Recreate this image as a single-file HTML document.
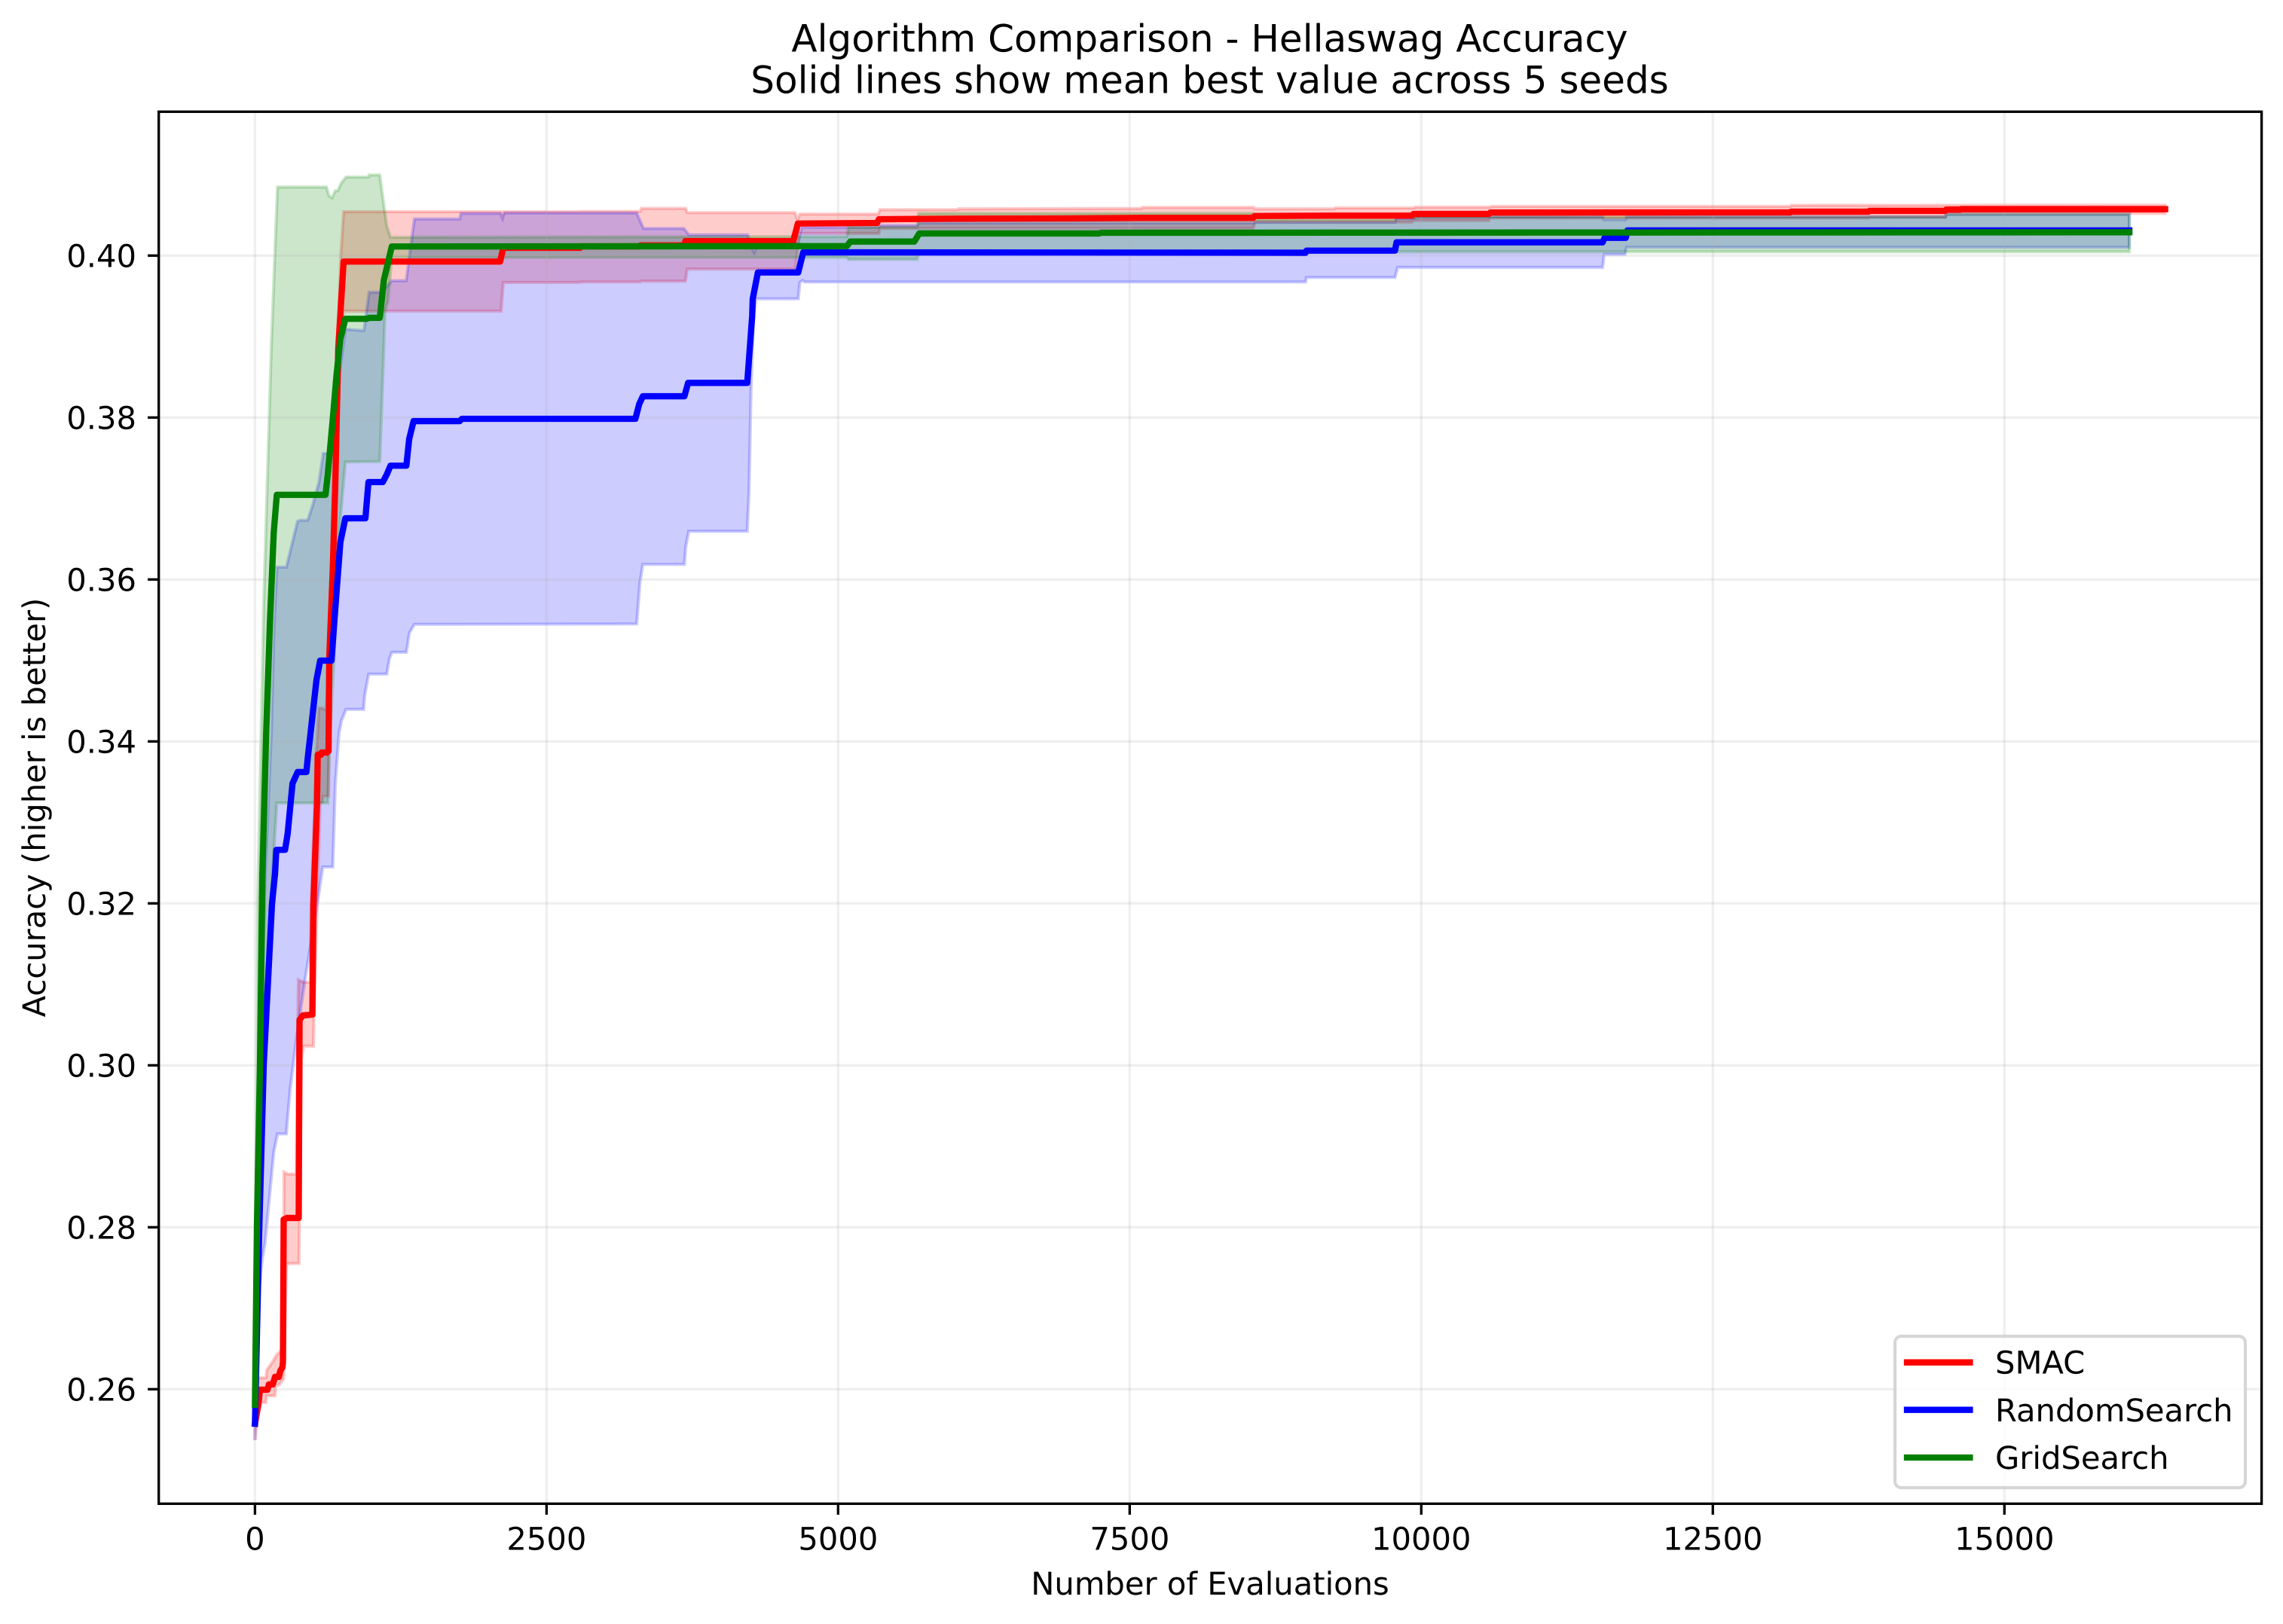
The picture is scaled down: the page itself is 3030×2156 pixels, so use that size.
<!DOCTYPE html>
<html lang="en">
<head>
<meta charset="utf-8">
<title>Algorithm Comparison - Hellaswag Accuracy</title>
<style>
html,body{margin:0;padding:0;background:#fff;}
svg{display:block;}
text{font-family:"DejaVu Sans","Liberation Sans",sans-serif;fill:#000;text-rendering:geometricPrecision;}
</style>
</head>
<body>
<svg id="chart" xmlns="http://www.w3.org/2000/svg" width="3030" height="2156" viewBox="0 0 3030 2156">
  <rect x="0" y="0" width="3030" height="2156" fill="#ffffff"/>
  <text x="1605.5" y="68.3" font-size="50" text-anchor="middle">Algorithm Comparison - Hellaswag Accuracy</text>
  <text x="1605.5" y="123.3" font-size="50" text-anchor="middle">Solid lines show mean best value across 5 seeds</text>
  <text x="1606" y="2117" font-size="41.67" text-anchor="middle">Number of Evaluations</text>
  <text transform="translate(60 1072) rotate(-90)" font-size="41.67" text-anchor="middle">Accuracy (higher is better)</text>
  <g id="bands"></g>
  <g id="grid"></g>
  <g id="lines"></g>
  <rect x="210.7" y="148.3" width="2790.9" height="1848" fill="none" stroke="#000" stroke-width="3.33"/>
  <g id="ticks"></g>
  <g id="legend">
    <rect x="2515" y="1774" width="465" height="201" rx="8.33" ry="8.33" fill="#ffffff" fill-opacity="0.8" stroke="#cccccc" stroke-opacity="0.8" stroke-width="4.17"/>
    <g>
      <line x1="2531" y1="1808.7" x2="2614.4" y2="1808.7" stroke="#ff0000" stroke-width="8.33" stroke-linecap="square"/>
      <text x="2648" y="1823.3" font-size="41.67">SMAC</text>
    </g>
    <g>
      <line x1="2531" y1="1871.7" x2="2614.4" y2="1871.7" stroke="#0000ff" stroke-width="8.33" stroke-linecap="square"/>
      <text x="2648" y="1887" font-size="41.67">RandomSearch</text>
    </g>
    <g>
      <line x1="2531" y1="1935" x2="2614.4" y2="1935" stroke="#008000" stroke-width="8.33" stroke-linecap="square"/>
      <text x="2648" y="1950" font-size="41.67">GridSearch</text>
    </g>
  </g>
</svg>
<script>
const xTickValues = [0, 2500, 5000, 7500, 10000, 12500, 15000];
const yTickLabels = ["0.26", "0.28", "0.30", "0.32", "0.34", "0.36", "0.38", "0.40"];

const smacMeanX = [0,30,43,107,120,152,172,204,217,236,240,246,275,375,382,411,492,501,532,538,566,572,618,631,637,667,689,714,760,2102,2129,2788,2794,3299,3305,3680,3690,4615,4655,5334,5350,6025,7007,7602,8558,8571,9250,9921,9933,10579,10592,12453,13164,13170,13835,13842,14494,14501,14623,14630,16378];
const smacMeanY = [.25575,.25817,.25994,.25994,.26059,.26059,.26152,.26152,.26226,.26273,.26338,.28096,.28115,.28115,.30561,.30617,.30626,.31994,.33231,.33836,.33836,.33863,.33863,.33882,.35036,.36115,.37203,.38849,.39926,.39926,.40096,.40096,.40114,.40114,.40126,.40126,.40178,.40178,.40396,.40403,.40449,.40456,.40459,.40465,.40465,.40489,.40493,.40493,.40514,.40514,.40531,.40533,.40533,.40542,.40542,.40552,.40552,.40567,.40567,.40573,.40573];
const smacHighX = [0,30,94,101,151,185,243,249,280,353,372,417,474,482,527,548,579,609,631,669,702,734,760,2110,2123,2136,2782,2788,3303,3312,3693,3706,4630,4652,4672,5344,5359,6025,6031,7602,7608,8564,8571,9256,9262,9940,9946,10592,10599,13164,13170,16378];
const smacHighY = [.2578,.26143,.26143,.26236,.26338,.26422,.26506,.28682,.28657,.28657,.31056,.31026,.31026,.31994,.33854,.34412,.34412,.34387,.34784,.36645,.38505,.39966,.40542,.40542,.40505,.40542,.40542,.40545,.40545,.40582,.40582,.4053,.4053,.40443,.40512,.40512,.40567,.40567,.40577,.40582,.40595,.40595,.40577,.40577,.40589,.40589,.40598,.40598,.40607,.40607,.4062,.40623];
const smacLowX = [0,30,43,94,101,172,178,204,247,269,275,377,398,417,501,514,559,579,585,631,650,702,734,760,2110,2129,2782,2788,3303,3305,3691,3706,4634,4666,5350,5359,8558,8577,9921,9933,10579,10592,13835,13842,14494,14501,16378];
const smacLowY = [.25371,.25752,.25836,.25836,.25919,.25919,.2605,.2605,.26133,.27501,.27552,.27552,.30077,.30236,.30236,.31064,.33231,.3325,.33324,.33324,.35715,.37575,.3897,.39314,.39314,.39668,.39668,.39674,.39674,.39684,.39684,.39833,.39833,.40273,.40273,.40335,.40335,.40412,.40412,.40433,.40433,.40463,.40463,.40474,.40474,.40521,.40521];

const randomMeanX = [0,36,75,146,159,172,183,258,280,322,366,441,452,484,527,559,656,689,732,775,947,973,1096,1130,1162,1298,1322,1360,1755,1774,3262,3294,3326,3682,3714,4221,4231,4263,4268,4312,4658,4701,9008,9016,9775,9788,11555,11572,11753,11768,16071];
const randomMeanY = [.25575,.27938,.30012,.31994,.3218,.32366,.32661,.32661,.32859,.33482,.33622,.33622,.33789,.34198,.34756,.34998,.34998,.35649,.36459,.36756,.36756,.37203,.37203,.37296,.37405,.37405,.37733,.37956,.37956,.37984,.37984,.38164,.38263,.38263,.38428,.38428,.38629,.39249,.39466,.39792,.39792,.4004,.40035,.40061,.40061,.40164,.40164,.4022,.4022,.40311,.40311];
const randomHighX = [0,30,88,140,161,188,269,365,385,452,496,549,585,656,721,775,934,979,1087,1141,1173,1296,1367,1755,1766,2104,2123,2136,3273,3331,3677,3721,4225,4248,4281,4307,4658,4686,5347,5359,5677,5696,8564,8571,9775,9785,9940,9952,11555,11568,11749,11761,14494,14501,16071];
const randomHighY = [.2578,.29203,.32366,.34105,.35342,.36152,.36152,.36719,.36731,.36731,.36924,.37203,.37556,.37556,.38505,.39091,.39073,.39547,.39547,.3964,.39689,.39689,.40452,.40452,.40521,.40521,.40459,.40526,.40526,.40335,.40335,.40257,.40257,.40133,.4004,.40161,.40161,.4035,.4035,.40372,.40372,.40403,.40403,.40412,.40412,.40459,.40459,.4048,.4048,.40443,.40443,.4048,.4048,.40508,.40508];
const randomLowX = [0,38,64,86,161,193,269,301,355,430,538,581,667,689,721,742,781,932,941,975,1130,1152,1173,1298,1324,1367,3273,3301,3326,3682,3693,3719,4221,4236,4253,4274,4297,4658,4672,4694,4713,9008,9016,9775,9798,11555,11568,11746,11761,16071];
const randomLowY = [.25371,.27259,.27622,.27798,.28924,.29153,.29153,.29696,.30326,.31064,.32024,.32449,.32449,.33482,.34105,.34257,.34396,.34396,.3457,.34831,.34831,.35017,.35101,.35101,.35342,.35445,.35451,.35963,.36186,.36186,.36396,.36595,.36595,.37082,.38319,.39249,.39466,.39466,.39668,.39693,.39674,.39674,.3973,.3973,.39854,.39854,.40015,.40015,.40102,.40102];

const gridMeanX = [0,17,43,64,96,129,161,187,605,624,667,700,732,775,958,979,1070,1105,1173,5075,5105,5653,5696,7238,7253,16071];
const gridMeanY = [.25808,.28031,.30012,.32366,.34105,.35501,.3658,.37045,.37045,.37296,.37978,.38536,.3897,.39219,.39219,.39231,.39231,.39696,.40112,.40117,.40173,.40173,.40273,.40273,.40282,.40288];
const gridHighX = [0,23,75,140,193,613,635,661,689,710,738,781,975,979,1070,1109,1130,1162,5075,5088,5677,5690,8558,8571,9775,9791,14494,14501,16071];
const gridHighY = [.25808,.31994,.35715,.38877,.40846,.40846,.40738,.40713,.408,.408,.40893,.4097,.4097,.40995,.40995,.40582,.40366,.40226,.40235,.4035,.4035,.40521,.40521,.40443,.40443,.40477,.40477,.40512,.40512];
const gridLowX = [0,36,150,187,624,635,678,721,775,1070,1096,1115,1141,1173,5075,5088,5677,5696,16071];
const gridLowY = [.25808,.29203,.32366,.3324,.3324,.33854,.35036,.3658,.37451,.37457,.38505,.39314,.39435,.39978,.39978,.39953,.39953,.40047,.40047];

function xScale(evaluations) { return 338.4 + evaluations * 0.15479; }
function yScale(accuracy) { return 339.3 + (0.40 - accuracy) * 10750; }

const SVG_NS = 'http://www.w3.org/2000/svg';
function make(tag, parent, attrs) {
  const el = document.createElementNS(SVG_NS, tag);
  for (const key in attrs) el.setAttribute(key, attrs[key]);
  parent.appendChild(el);
  return el;
}
function toPoints(xs, ys) {
  return xs.map(function (x, i) { return xScale(x).toFixed(2) + ',' + yScale(ys[i]).toFixed(2); });
}

const bandsGroup = document.getElementById('bands');
const gridGroup = document.getElementById('grid');
const linesGroup = document.getElementById('lines');
const ticksGroup = document.getElementById('ticks');

function drawBand(name, color, highX, highY, lowX, lowY) {
  const upper = toPoints(highX, highY);
  const lower = toPoints(lowX, lowY).reverse();
  const band = make('polygon', bandsGroup, {
    points: upper.concat(lower).join(' '),
    fill: color, 'fill-opacity': 0.2,
    stroke: color, 'stroke-opacity': 0.2, 'stroke-width': 4.17, 'stroke-linejoin': 'miter'
  });
  
  
}
function drawLine(name, color, xs, ys) {
  const line = make('polyline', linesGroup, {
    points: toPoints(xs, ys).join(' '),
    fill: 'none', stroke: color, 'stroke-width': 8.33,
    'stroke-linejoin': 'round', 'stroke-linecap': 'square'
  });
  
  
}

drawBand('smac-std-band', '#ff0000', smacHighX, smacHighY, smacLowX, smacLowY);
drawBand('randomsearch-std-band', '#0000ff', randomHighX, randomHighY, randomLowX, randomLowY);
drawBand('gridsearch-std-band', '#008000', gridHighX, gridHighY, gridLowX, gridLowY);

xTickValues.forEach(function (value) {
  const px = xScale(value);
  const gridLine = make('line', gridGroup, { x1: px, x2: px, y1: 148.3, y2: 1996.3, stroke: '#b0b0b0', 'stroke-opacity': 0.2, 'stroke-width': 3.33 });
  
  
  const tick = make('line', ticksGroup, { x1: px, x2: px, y1: 1996.3, y2: 2010.9, stroke: '#000', 'stroke-width': 3.33 });
  
  
  const label = make('text', ticksGroup, { x: px, y: 2057.3, 'font-size': 41.67, 'text-anchor': 'middle' });
  label.textContent = String(value);
  
  
});
yTickLabels.forEach(function (text) {
  const py = yScale(parseFloat(text));
  const gridLine = make('line', gridGroup, { x1: 210.7, x2: 3001.6, y1: py, y2: py, stroke: '#b0b0b0', 'stroke-opacity': 0.2, 'stroke-width': 3.33 });
  
  
  const tick = make('line', ticksGroup, { x1: 196.1, x2: 210.7, y1: py, y2: py, stroke: '#000', 'stroke-width': 3.33 });
  
  
  const label = make('text', ticksGroup, { x: 181, y: py + 15.2, 'font-size': 41.67, 'text-anchor': 'end' });
  label.textContent = text;
  
  
});

drawLine('smac-mean-line', '#ff0000', smacMeanX, smacMeanY);
drawLine('randomsearch-mean-line', '#0000ff', randomMeanX, randomMeanY);
drawLine('gridsearch-mean-line', '#008000', gridMeanX, gridMeanY);
</script>
</body>
</html>
